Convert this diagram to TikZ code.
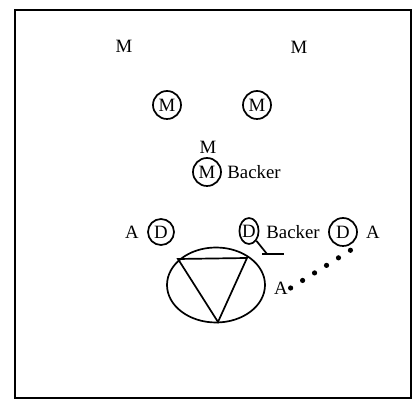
\documentclass[tikz,border=0pt]{standalone}
\usepackage{fontspec}
\setmainfont{Liberation Serif}
\usetikzlibrary{shapes.geometric}

\begin{document}
\begin{tikzpicture}[x=0.5pt, y=-0.5pt, line width=0.85pt,
    lbl/.style={inner sep=1pt, font=\fontsize{9.4}{11}\selectfont},
    plr/.style={lbl, draw, circle, inner sep=0pt, minimum size=14pt},
    plre/.style={lbl, draw, ellipse, inner sep=0pt, minimum width=9pt, minimum height=13pt},
    dotline/.style={line width=2.6pt, line cap=round, dash pattern=on 0pt off 7.07pt}]

  \useasboundingbox (0,0) rectangle (413,400);
  \draw (15,10) rectangle (411,398);
  \draw[line width=1.2pt] (15,10) -- (15,398);

  % obere Reihe
  \node[lbl] (m1) at (124,46) {M};
  \node[lbl] (m2) at (299,47) {M};
  \node[plr] (cm1) at (167,105) {M};
  \node[plr] (cm2) at (257,105) {M};

  % Mitte
  \node[lbl] (m3) at (208,147) {M};
  \node[plr] (cm3) at (207,172) {M};
  \node[lbl] (bk1) at (254,172) {Backer};

  % untere Reihe
  \node[lbl] (a1) at (132,232) {A};
  \node[plr, minimum size=13pt] (d1) at (161,232) {D};
  \node[plre] (d2) at (249,231) {D};
  \node[lbl] (bk2) at (293,232) {Backer};
  \node[plr] (d3) at (343,232) {D};
  \node[lbl] (a2) at (373,232) {A};
  \node[lbl] (a3) at (281,288) {A};

  % Block
  \coordinate (blk) at (267,254);
  \coordinate (blkl) at (262,254);
  \coordinate (blkr) at (284,254);
  \draw (d2.south east) -- (blk);
  \draw (blkl) -- (blkr);

  % Tor
  \node[draw, ellipse, minimum width=49pt, minimum height=37.5pt] (gk) at (216,285) {};
  \draw (178,259) -- (247,258) -- (218,322) -- cycle;

  % Laufweg
  \coordinate (tip) at (362,243);
  \draw[dotline] (a3.east) -- (tip);

\end{tikzpicture}
\end{document}
